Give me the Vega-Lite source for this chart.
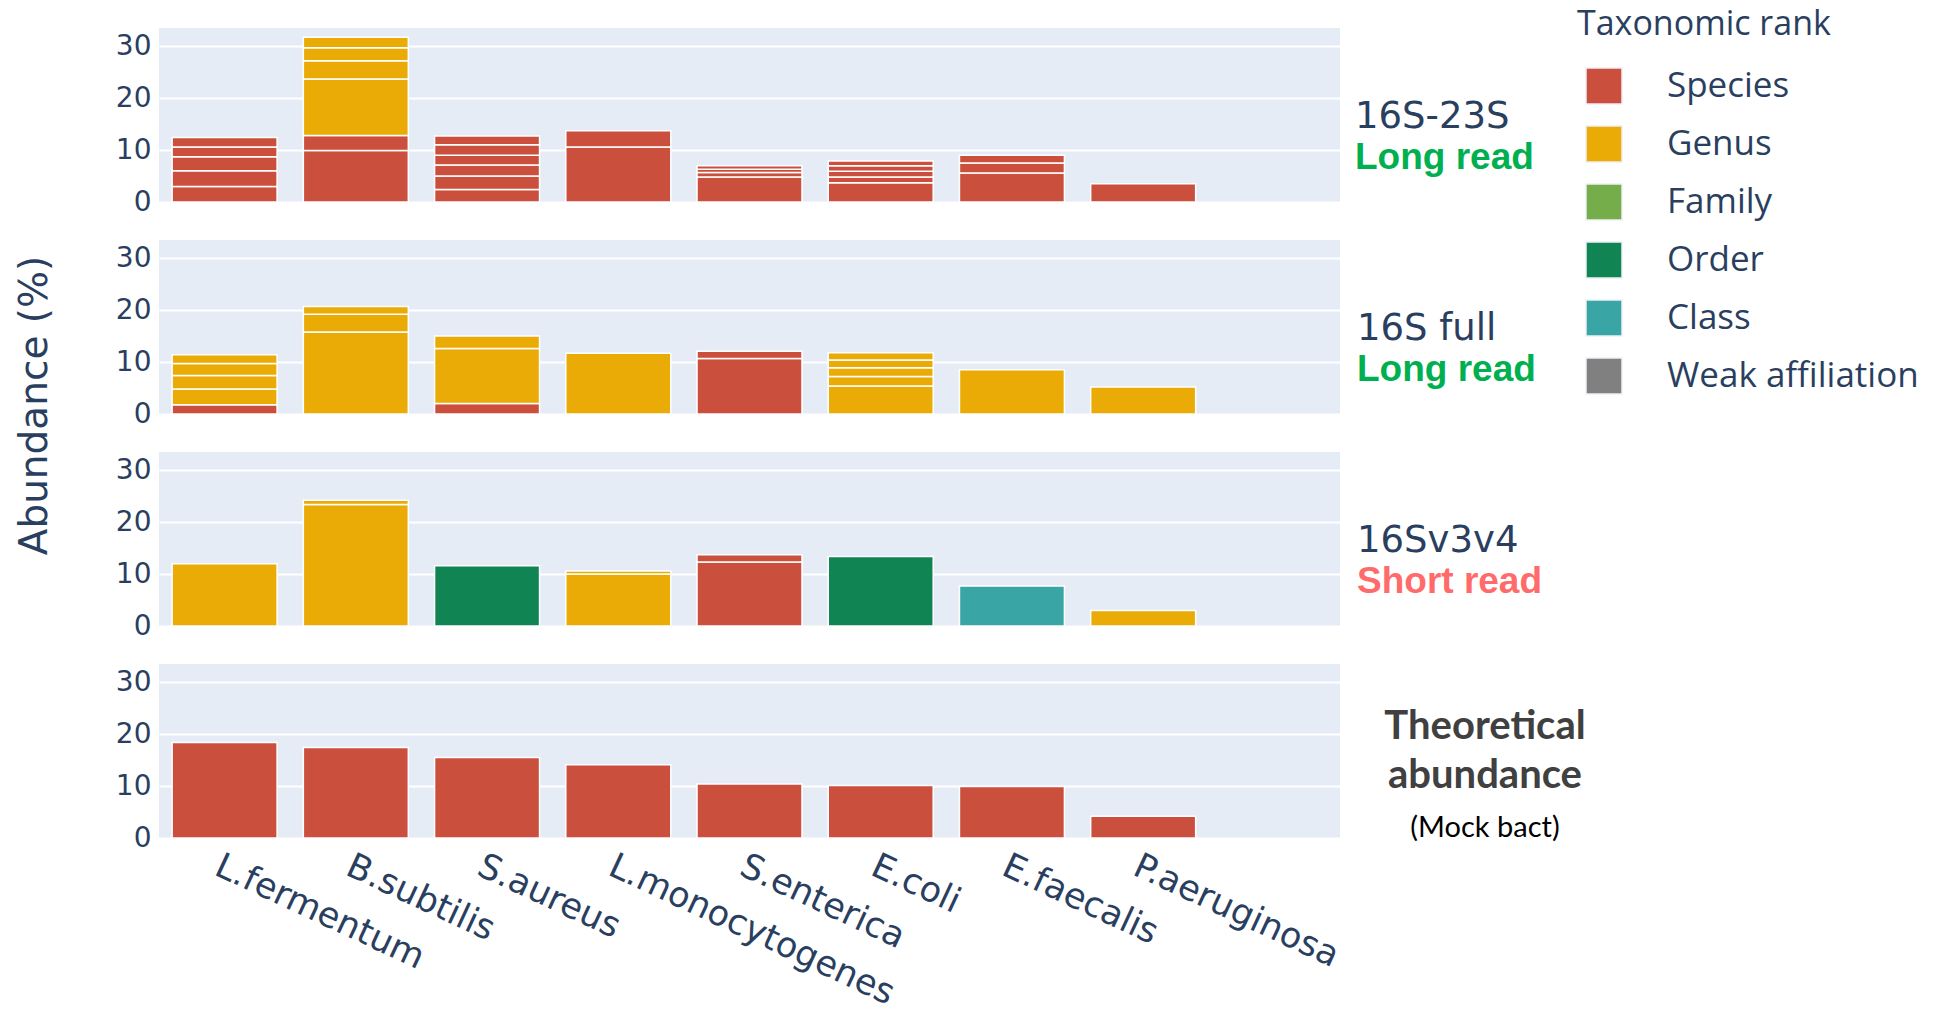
{
  "$schema": "https://vega.github.io/schema/vega-lite/v6.json",
  "padding": {"left": 14, "top": 8, "right": 5, "bottom": 5},
  "background": "white",
  "spacing": 38,
  "bounds": "flush",
  "datasets": {
    "abundance": [
      {"panel": "16S-23S", "species": "L.fermentum", "rank": "Species", "seg": 1, "value": 3.0},
      {"panel": "16S-23S", "species": "L.fermentum", "rank": "Species", "seg": 2, "value": 3.0},
      {"panel": "16S-23S", "species": "L.fermentum", "rank": "Species", "seg": 3, "value": 2.7},
      {"panel": "16S-23S", "species": "L.fermentum", "rank": "Species", "seg": 4, "value": 1.9},
      {"panel": "16S-23S", "species": "L.fermentum", "rank": "Species", "seg": 5, "value": 1.8},
      {"panel": "16S-23S", "species": "B.subtilis", "rank": "Species", "seg": 1, "value": 9.9},
      {"panel": "16S-23S", "species": "B.subtilis", "rank": "Species", "seg": 2, "value": 2.9},
      {"panel": "16S-23S", "species": "B.subtilis", "rank": "Genus", "seg": 3, "value": 10.9},
      {"panel": "16S-23S", "species": "B.subtilis", "rank": "Genus", "seg": 4, "value": 3.5},
      {"panel": "16S-23S", "species": "B.subtilis", "rank": "Genus", "seg": 5, "value": 2.5},
      {"panel": "16S-23S", "species": "B.subtilis", "rank": "Genus", "seg": 6, "value": 2.0},
      {"panel": "16S-23S", "species": "S.aureus", "rank": "Species", "seg": 1, "value": 2.4},
      {"panel": "16S-23S", "species": "S.aureus", "rank": "Species", "seg": 2, "value": 2.6},
      {"panel": "16S-23S", "species": "S.aureus", "rank": "Species", "seg": 3, "value": 2.1},
      {"panel": "16S-23S", "species": "S.aureus", "rank": "Species", "seg": 4, "value": 1.9},
      {"panel": "16S-23S", "species": "S.aureus", "rank": "Species", "seg": 5, "value": 2.0},
      {"panel": "16S-23S", "species": "S.aureus", "rank": "Species", "seg": 6, "value": 1.7},
      {"panel": "16S-23S", "species": "L.monocytogenes", "rank": "Species", "seg": 1, "value": 10.6},
      {"panel": "16S-23S", "species": "L.monocytogenes", "rank": "Species", "seg": 2, "value": 3.1},
      {"panel": "16S-23S", "species": "S.enterica", "rank": "Species", "seg": 1, "value": 4.8},
      {"panel": "16S-23S", "species": "S.enterica", "rank": "Species", "seg": 2, "value": 0.9},
      {"panel": "16S-23S", "species": "S.enterica", "rank": "Species", "seg": 3, "value": 0.6},
      {"panel": "16S-23S", "species": "S.enterica", "rank": "Species", "seg": 4, "value": 0.7},
      {"panel": "16S-23S", "species": "E.coli", "rank": "Species", "seg": 1, "value": 3.7},
      {"panel": "16S-23S", "species": "E.coli", "rank": "Species", "seg": 2, "value": 1.1},
      {"panel": "16S-23S", "species": "E.coli", "rank": "Species", "seg": 3, "value": 1.1},
      {"panel": "16S-23S", "species": "E.coli", "rank": "Species", "seg": 4, "value": 1.1},
      {"panel": "16S-23S", "species": "E.coli", "rank": "Species", "seg": 5, "value": 0.9},
      {"panel": "16S-23S", "species": "E.faecalis", "rank": "Species", "seg": 1, "value": 5.6},
      {"panel": "16S-23S", "species": "E.faecalis", "rank": "Species", "seg": 2, "value": 1.9},
      {"panel": "16S-23S", "species": "E.faecalis", "rank": "Species", "seg": 3, "value": 1.5},
      {"panel": "16S-23S", "species": "P.aeruginosa", "rank": "Species", "seg": 1, "value": 3.5},

      {"panel": "16S full", "species": "L.fermentum", "rank": "Species", "seg": 1, "value": 1.8},
      {"panel": "16S full", "species": "L.fermentum", "rank": "Genus", "seg": 2, "value": 3.0},
      {"panel": "16S full", "species": "L.fermentum", "rank": "Genus", "seg": 3, "value": 2.6},
      {"panel": "16S full", "species": "L.fermentum", "rank": "Genus", "seg": 4, "value": 2.3},
      {"panel": "16S full", "species": "L.fermentum", "rank": "Genus", "seg": 5, "value": 1.7},
      {"panel": "16S full", "species": "B.subtilis", "rank": "Genus", "seg": 1, "value": 15.8},
      {"panel": "16S full", "species": "B.subtilis", "rank": "Genus", "seg": 2, "value": 3.4},
      {"panel": "16S full", "species": "B.subtilis", "rank": "Genus", "seg": 3, "value": 1.5},
      {"panel": "16S full", "species": "S.aureus", "rank": "Species", "seg": 1, "value": 2.0},
      {"panel": "16S full", "species": "S.aureus", "rank": "Genus", "seg": 2, "value": 10.6},
      {"panel": "16S full", "species": "S.aureus", "rank": "Genus", "seg": 3, "value": 2.4},
      {"panel": "16S full", "species": "L.monocytogenes", "rank": "Genus", "seg": 1, "value": 11.7},
      {"panel": "16S full", "species": "S.enterica", "rank": "Species", "seg": 1, "value": 10.7},
      {"panel": "16S full", "species": "S.enterica", "rank": "Species", "seg": 2, "value": 1.4},
      {"panel": "16S full", "species": "E.coli", "rank": "Genus", "seg": 1, "value": 5.4},
      {"panel": "16S full", "species": "E.coli", "rank": "Genus", "seg": 2, "value": 1.8},
      {"panel": "16S full", "species": "E.coli", "rank": "Genus", "seg": 3, "value": 1.7},
      {"panel": "16S full", "species": "E.coli", "rank": "Genus", "seg": 4, "value": 1.5},
      {"panel": "16S full", "species": "E.coli", "rank": "Genus", "seg": 5, "value": 1.4},
      {"panel": "16S full", "species": "E.faecalis", "rank": "Genus", "seg": 1, "value": 8.5},
      {"panel": "16S full", "species": "P.aeruginosa", "rank": "Genus", "seg": 1, "value": 5.2},

      {"panel": "16Sv3v4", "species": "L.fermentum", "rank": "Genus", "seg": 1, "value": 12.0},
      {"panel": "16Sv3v4", "species": "B.subtilis", "rank": "Genus", "seg": 1, "value": 23.4},
      {"panel": "16Sv3v4", "species": "B.subtilis", "rank": "Genus", "seg": 2, "value": 0.8},
      {"panel": "16Sv3v4", "species": "S.aureus", "rank": "Order", "seg": 1, "value": 11.6},
      {"panel": "16Sv3v4", "species": "L.monocytogenes", "rank": "Genus", "seg": 1, "value": 10.0},
      {"panel": "16Sv3v4", "species": "L.monocytogenes", "rank": "Genus", "seg": 2, "value": 0.6},
      {"panel": "16Sv3v4", "species": "S.enterica", "rank": "Species", "seg": 1, "value": 12.3},
      {"panel": "16Sv3v4", "species": "S.enterica", "rank": "Species", "seg": 2, "value": 1.4},
      {"panel": "16Sv3v4", "species": "E.coli", "rank": "Order", "seg": 1, "value": 13.4},
      {"panel": "16Sv3v4", "species": "E.faecalis", "rank": "Class", "seg": 1, "value": 7.7},
      {"panel": "16Sv3v4", "species": "P.aeruginosa", "rank": "Genus", "seg": 1, "value": 3.0},

      {"panel": "Theoretical", "species": "L.fermentum", "rank": "Species", "seg": 1, "value": 18.4},
      {"panel": "Theoretical", "species": "B.subtilis", "rank": "Species", "seg": 1, "value": 17.4},
      {"panel": "Theoretical", "species": "S.aureus", "rank": "Species", "seg": 1, "value": 15.5},
      {"panel": "Theoretical", "species": "L.monocytogenes", "rank": "Species", "seg": 1, "value": 14.1},
      {"panel": "Theoretical", "species": "S.enterica", "rank": "Species", "seg": 1, "value": 10.4},
      {"panel": "Theoretical", "species": "E.coli", "rank": "Species", "seg": 1, "value": 10.1},
      {"panel": "Theoretical", "species": "E.faecalis", "rank": "Species", "seg": 1, "value": 9.9},
      {"panel": "Theoretical", "species": "P.aeruginosa", "rank": "Species", "seg": 1, "value": 4.2}
    ]
  },
  "config": {
    "view": {"fill": "#E5ECF6", "stroke": null},
    "bar": {"stroke": "white", "strokeWidth": 1.5},
    "axisY": {
      "grid": true, "gridColor": "white", "gridWidth": 2,
      "domain": false, "ticks": false,
      "labelFont": "DejaVu Sans", "labelFontSize": 28, "labelColor": "#2a3f5f", "labelPadding": 8
    },
    "axisX": {
      "grid": false, "domain": false, "ticks": false,
      "labelFont": "DejaVu Sans", "labelFontSize": 35, "labelColor": "#2a3f5f", "labelLimit": 600
    },
    "legend": {
      "orient": "none", "legendX": 1418, "legendY": -20,
      "titleFont": "Open Sans", "titleFontSize": 34, "titleFontWeight": "normal", "titleColor": "#2a3f5f", "titlePadding": 25, "titleLimit": 500,
      "labelFont": "Open Sans", "labelFontSize": 35, "labelColor": "#2a3f5f", "labelOffset": 44, "labelLimit": 500,
      "symbolType": "square", "symbolSize": 1296, "symbolOpacity": 1,
      "symbolStrokeColor": "#eef0f6", "symbolStrokeWidth": 1.5,
      "rowPadding": 16, "symbolOffset": 8
    },
    "title": {"orient": "top", "anchor": "end", "frame": "group", "offset": 0, "dy": 153}
  },
  "resolve": {"scale": {"color": "shared"}},
  "vconcat": [
    {
      "width": 1181, "height": 174,
      "data": {"name": "abundance"},
      "transform": [{"filter": "datum.panel === '16S-23S'"}],
      "title": {
        "text": "16S-23S", "subtitle": "Long read", "align": "left", "baseline": "top", "dx": 15,
        "font": "DejaVu Sans", "fontSize": 37, "fontWeight": "normal", "color": "#2a3f5f",
        "subtitleFont": "Liberation Sans", "subtitleFontSize": 37, "subtitleFontWeight": "bold", "subtitleColor": "#00B050", "subtitlePadding": 4
      },
      "mark": "bar",
      "encoding": {
        "x": {"field": "species", "type": "nominal", "sort": null,
              "scale": {"domain": ["L.fermentum", "B.subtilis", "S.aureus", "L.monocytogenes", "S.enterica", "E.coli", "E.faecalis", "P.aeruginosa", " "], "paddingInner": 0.2, "paddingOuter": 0.1},
              "axis": null},
        "y": {"field": "value", "type": "quantitative", "stack": "zero",
              "scale": {"domain": [0, 33.5], "nice": false},
              "axis": {"values": [0, 10, 20, 30], "title": null}},
        "color": {"field": "rank", "type": "nominal",
                  "scale": {"domain": ["Species", "Genus", "Family", "Order", "Class", "Weak affiliation"],
                            "range": ["#CB4F3D", "#EBAB07", "#74AD4A", "#108453", "#3AA5A5", "#808080"]},
                  "legend": {"title": "Taxonomic rank"}},
        "order": {"field": "seg", "type": "quantitative"}
      }
    },
    {
      "width": 1181, "height": 174,
      "data": {"name": "abundance"},
      "transform": [{"filter": "datum.panel === '16S full'"}],
      "title": {
        "text": "16S full", "subtitle": "Long read", "align": "left", "baseline": "top", "dx": 17,
        "font": "DejaVu Sans", "fontSize": 37, "fontWeight": "normal", "color": "#2a3f5f",
        "subtitleFont": "Liberation Sans", "subtitleFontSize": 37, "subtitleFontWeight": "bold", "subtitleColor": "#00B050", "subtitlePadding": 4
      },
      "mark": "bar",
      "encoding": {
        "x": {"field": "species", "type": "nominal", "sort": null,
              "scale": {"domain": ["L.fermentum", "B.subtilis", "S.aureus", "L.monocytogenes", "S.enterica", "E.coli", "E.faecalis", "P.aeruginosa", " "], "paddingInner": 0.2, "paddingOuter": 0.1},
              "axis": null},
        "y": {"field": "value", "type": "quantitative", "stack": "zero",
              "scale": {"domain": [0, 33.5], "nice": false},
              "axis": {"values": [0, 10, 20, 30], "title": "Abundance (%)",
                       "titleFont": "DejaVu Sans", "titleFontSize": 39, "titleFontWeight": "normal", "titleColor": "#2a3f5f",
                       "titleAngle": -90, "titleAlign": "center", "titleBaseline": "middle", "titleX": -125, "titleY": 165}},
        "color": {"field": "rank", "type": "nominal",
                  "scale": {"domain": ["Species", "Genus", "Family", "Order", "Class", "Weak affiliation"],
                            "range": ["#CB4F3D", "#EBAB07", "#74AD4A", "#108453", "#3AA5A5", "#808080"]},
                  "legend": {"title": "Taxonomic rank"}},
        "order": {"field": "seg", "type": "quantitative"}
      }
    },
    {
      "width": 1181, "height": 174,
      "data": {"name": "abundance"},
      "transform": [{"filter": "datum.panel === '16Sv3v4'"}],
      "title": {
        "text": "16Sv3v4", "subtitle": "Short read", "align": "left", "baseline": "top", "dx": 17,
        "font": "DejaVu Sans", "fontSize": 37, "fontWeight": "normal", "color": "#2a3f5f",
        "subtitleFont": "Liberation Sans", "subtitleFontSize": 37, "subtitleFontWeight": "bold", "subtitleColor": "#FF6B6B", "subtitlePadding": 4
      },
      "mark": "bar",
      "encoding": {
        "x": {"field": "species", "type": "nominal", "sort": null,
              "scale": {"domain": ["L.fermentum", "B.subtilis", "S.aureus", "L.monocytogenes", "S.enterica", "E.coli", "E.faecalis", "P.aeruginosa", " "], "paddingInner": 0.2, "paddingOuter": 0.1},
              "axis": null},
        "y": {"field": "value", "type": "quantitative", "stack": "zero",
              "scale": {"domain": [0, 33.5], "nice": false},
              "axis": {"values": [0, 10, 20, 30], "title": null}},
        "color": {"field": "rank", "type": "nominal",
                  "scale": {"domain": ["Species", "Genus", "Family", "Order", "Class", "Weak affiliation"],
                            "range": ["#CB4F3D", "#EBAB07", "#74AD4A", "#108453", "#3AA5A5", "#808080"]},
                  "legend": {"title": "Taxonomic rank"}},
        "order": {"field": "seg", "type": "quantitative"}
      }
    },
    {
      "width": 1181, "height": 174,
      "data": {"name": "abundance"},
      "transform": [{"filter": "datum.panel === 'Theoretical'"}],
      "title": {
        "text": ["Theoretical", "abundance"], "subtitle": "(Mock bact)",
        "align": "center", "baseline": "top", "dx": 145, "dy": 183, "lineHeight": 49,
        "font": "Lato", "fontSize": 40, "fontWeight": "bold", "color": "#404040",
        "subtitleFont": "Lato", "subtitleFontSize": 29, "subtitleFontWeight": "normal", "subtitleColor": "black", "subtitlePadding": 18
      },
      "mark": "bar",
      "encoding": {
        "x": {"field": "species", "type": "nominal", "sort": null,
              "scale": {"domain": ["L.fermentum", "B.subtilis", "S.aureus", "L.monocytogenes", "S.enterica", "E.coli", "E.faecalis", "P.aeruginosa", " "], "paddingInner": 0.2, "paddingOuter": 0.1},
              "axis": {"title": null, "labelAngle": 25, "labelAlign": "left", "labelBaseline": "top", "labelPadding": 10}},
        "y": {"field": "value", "type": "quantitative", "stack": "zero",
              "scale": {"domain": [0, 33.5], "nice": false},
              "axis": {"values": [0, 10, 20, 30], "title": null}},
        "color": {"field": "rank", "type": "nominal",
                  "scale": {"domain": ["Species", "Genus", "Family", "Order", "Class", "Weak affiliation"],
                            "range": ["#CB4F3D", "#EBAB07", "#74AD4A", "#108453", "#3AA5A5", "#808080"]},
                  "legend": {"title": "Taxonomic rank"}},
        "order": {"field": "seg", "type": "quantitative"}
      }
    }
  ]
}
